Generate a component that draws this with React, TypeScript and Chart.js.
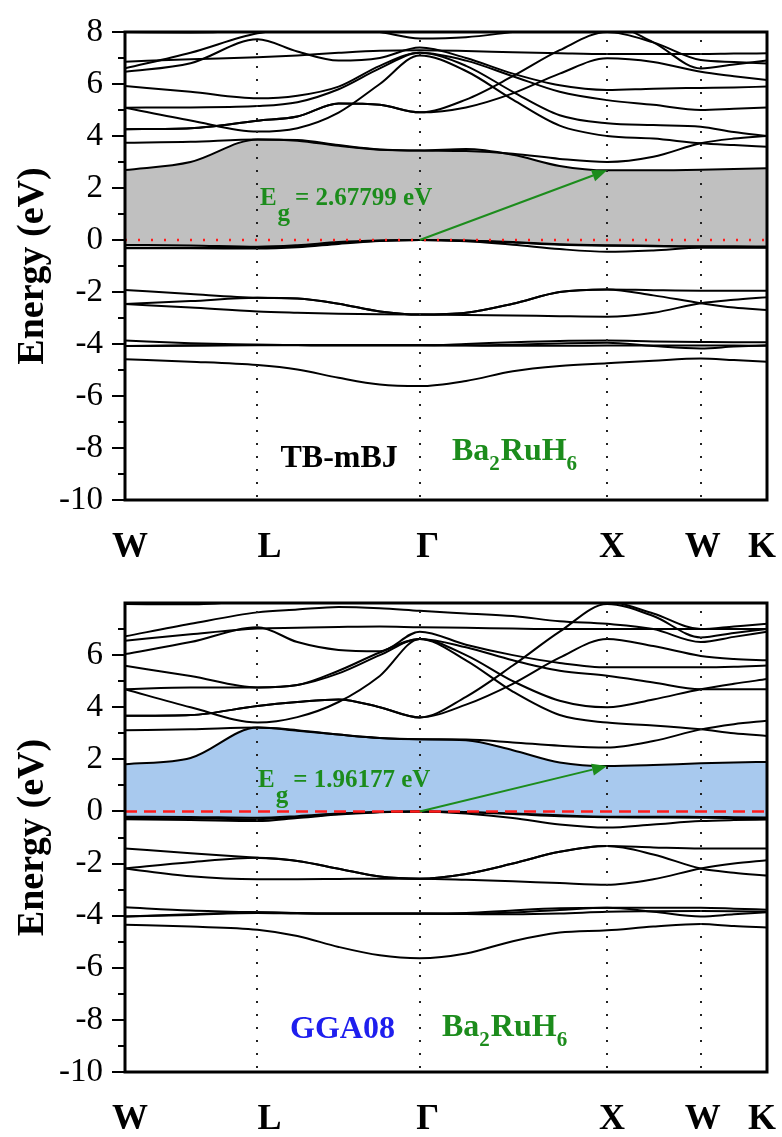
import React, { useEffect, useRef } from 'react';
import { Chart, registerables } from 'chart.js';

Chart.register(...registerables);

// ---------- k-path (reciprocal-space distance) ----------
const K_PATH = [0, 0.35, 0.7071, 0.92, 1.14, 1.36, 1.5731, 1.82, 2.07, 2.32, 2.5731, 2.82, 3.0731, 3.25, 3.4267];
const SYM_POINTS = [0, 0.7071, 1.5731, 2.5731, 3.0731, 3.4267];
const SYM_LABELS = ['W', 'L', 'Γ', 'X', 'W', 'K'];

// ---------- TB-mBJ bands (eV) ----------
const TB_V1 = [-4.59, -4.68, -4.81, -4.98, -5.3, -5.56, -5.62, -5.42, -5.05, -4.85, -4.74, -4.64, -4.56, -4.62, -4.68];
const TB_V2 = [-3.87, -3.97, -4.03, -4.04, -4.05, -4.05, -4.05, -4.0, -3.93, -3.88, -3.87, -3.9, -3.92, -3.93, -3.93];
const TB_V3 = [-4.08, -4.05, -4.03, -4.04, -4.05, -4.05, -4.05, -4.05, -4.03, -3.98, -3.95, -4.08, -4.17, -4.1, -4.05];
const TB_V4 = [-4.08, -4.07, -4.05, -4.05, -4.05, -4.05, -4.05, -4.06, -4.07, -4.07, -4.06, -4.06, -4.06, -4.06, -4.07];
const TB_V5 = [-1.92, -2.08, -2.22, -2.25, -2.45, -2.75, -2.87, -2.8, -2.45, -2.0, -1.9, -1.93, -1.95, -1.95, -1.95];
const TB_V6 = [-2.46, -2.35, -2.22, -2.25, -2.45, -2.75, -2.87, -2.8, -2.45, -2.0, -1.9, -2.13, -2.43, -2.6, -2.69];
const TB_V7 = [-2.46, -2.6, -2.75, -2.8, -2.84, -2.86, -2.87, -2.88, -2.9, -2.93, -2.95, -2.8, -2.43, -2.3, -2.2];
const TB_V8 = [-0.32, -0.32, -0.33, -0.28, -0.15, -0.04, 0, -0.05, -0.18, -0.35, -0.45, -0.4, -0.3, -0.3, -0.3];
const TB_V9 = [-0.3, -0.3, -0.3, -0.25, -0.12, -0.03, 0, -0.03, -0.1, -0.18, -0.22, -0.24, -0.26, -0.27, -0.28];
const TB_V10 = [-0.19, -0.21, -0.26, -0.2, -0.08, -0.02, 0, -0.02, -0.08, -0.16, -0.2, -0.22, -0.24, -0.24, -0.25];
const TB_C1 = [2.69, 3.0, 3.87, 3.82, 3.62, 3.47, 3.44, 3.5, 3.28, 2.85, 2.68, 2.68, 2.7, 2.73, 2.76];
const TB_C2 = [3.74, 3.78, 3.87, 3.85, 3.65, 3.48, 3.44, 3.42, 3.32, 3.12, 3.0, 3.2, 3.72, 3.9, 4.0];
const TB_C3 = [4.26, 4.3, 4.59, 4.75, 5.25, 5.2, 4.91, 5.1, 5.64, 6.4, 6.99, 6.85, 6.47, 6.3, 6.15];
const TB_C4 = [5.09, 4.6, 4.17, 4.3, 4.9, 6.0, 7.1, 6.5, 5.4, 4.4, 4.0, 3.9, 3.72, 3.65, 3.59];
const TB_C5 = [5.09, 5.1, 5.15, 5.3, 5.8, 6.6, 7.2, 6.7, 5.7, 4.8, 4.49, 4.42, 4.36, 4.15, 4.0];
const TB_C6 = [5.92, 5.7, 5.45, 5.55, 5.9, 6.7, 7.2, 6.9, 6.3, 5.7, 5.38, 5.2, 5.0, 5.05, 5.1];
const TB_C7 = [6.86, 6.95, 7.03, 7.1, 7.2, 7.28, 7.3, 7.27, 7.22, 7.18, 7.15, 7.15, 7.15, 7.17, 7.18];
const TB_C8 = [6.47, 6.8, 7.72, 7.25, 6.9, 7.0, 7.4, 7.0, 6.4, 5.95, 5.77, 5.82, 5.85, 5.87, 5.9];
const TB_C9 = [4.26, 4.3, 4.59, 4.75, 5.25, 5.2, 4.91, 5.4, 6.3, 7.3, 8.0, 7.6, 6.92, 6.85, 6.79];
const TB_C10 = [6.6, 7.2, 7.95, 8.1, 8.2, 8.0, 7.75, 7.8, 8.0, 8.2, 8.3, 7.6, 6.6, 6.75, 6.9];
const TB_C11 = [8.0, 7.98, 8.1, 8.3, 8.4, 8.3, 8.2, 8.3, 8.4, 8.4, 8.5, 8.5, 8.5, 8.5, 8.5];

// ---------- GGA08 bands (eV) ----------
const GG_V1 = [-4.35, -4.42, -4.54, -4.78, -5.2, -5.52, -5.63, -5.45, -4.98, -4.65, -4.56, -4.42, -4.32, -4.4, -4.45];
const GG_V2 = [-3.68, -3.8, -3.87, -3.9, -3.92, -3.92, -3.92, -3.9, -3.8, -3.72, -3.7, -3.7, -3.7, -3.73, -3.77];
const GG_V3 = [-4.03, -3.95, -3.87, -3.9, -3.92, -3.92, -3.92, -3.92, -3.88, -3.78, -3.7, -3.85, -4.03, -3.95, -3.87];
const GG_V4 = [-4.03, -3.97, -3.9, -3.92, -3.93, -3.93, -3.93, -3.94, -3.95, -3.92, -3.85, -3.83, -3.82, -3.83, -3.85];
const GG_V5 = [-1.42, -1.6, -1.78, -1.9, -2.2, -2.5, -2.58, -2.4, -2.0, -1.55, -1.33, -1.38, -1.42, -1.42, -1.42];
const GG_V6 = [-2.19, -1.95, -1.78, -1.9, -2.2, -2.5, -2.58, -2.4, -2.0, -1.55, -1.33, -1.65, -2.19, -2.35, -2.46];
const GG_V7 = [-2.19, -2.49, -2.6, -2.6, -2.59, -2.58, -2.58, -2.62, -2.68, -2.75, -2.81, -2.6, -2.19, -2.0, -1.87];
const GG_V8 = [-0.3, -0.33, -0.37, -0.25, -0.12, -0.03, 0, -0.08, -0.25, -0.5, -0.62, -0.5, -0.37, -0.33, -0.31];
const GG_V9 = [-0.25, -0.27, -0.3, -0.22, -0.1, -0.02, 0, -0.03, -0.1, -0.18, -0.22, -0.23, -0.24, -0.25, -0.26];
const GG_V10 = [-0.2, -0.21, -0.24, -0.18, -0.08, -0.02, 0, -0.02, -0.08, -0.15, -0.2, -0.2, -0.21, -0.22, -0.23];
const GG_C1 = [1.81, 2.05, 3.22, 3.1, 2.95, 2.82, 2.77, 2.73, 2.35, 1.88, 1.74, 1.78, 1.85, 1.88, 1.9];
const GG_C2 = [3.12, 3.15, 3.22, 3.12, 2.95, 2.82, 2.77, 2.76, 2.65, 2.52, 2.45, 2.7, 3.15, 3.35, 3.48];
const GG_C3 = [3.67, 3.7, 4.05, 4.2, 4.3, 4.0, 3.61, 4.1, 4.9, 5.9, 6.62, 6.35, 5.97, 5.85, 5.8];
const GG_C4 = [4.69, 4.0, 3.41, 3.62, 4.2, 5.2, 6.62, 5.8, 4.6, 3.7, 3.41, 3.3, 3.15, 3.0, 2.9];
const GG_C5 = [4.69, 4.76, 4.76, 4.85, 5.3, 6.0, 6.62, 6.0, 5.0, 4.25, 4.0, 4.3, 4.69, 4.9, 5.08];
const GG_C6 = [5.59, 5.2, 4.76, 4.85, 5.4, 6.1, 6.62, 6.3, 5.8, 5.4, 5.21, 4.95, 4.69, 4.69, 4.69];
const GG_C7 = [6.55, 6.8, 7.02, 7.05, 7.08, 7.1, 7.07, 7.05, 7.02, 7.0, 7.0, 7.0, 7.0, 7.0, 7.0];
const GG_C8 = [6.04, 6.5, 7.07, 6.5, 6.2, 6.15, 6.9, 6.4, 6.0, 5.7, 5.53, 5.53, 5.53, 5.55, 5.6];
const GG_C9 = [3.67, 3.7, 4.05, 4.2, 4.3, 4.0, 3.61, 4.4, 5.6, 6.9, 7.96, 7.5, 6.68, 6.85, 7.0];
const GG_C10 = [6.72, 7.2, 7.64, 7.75, 7.85, 7.8, 7.7, 7.6, 7.5, 7.3, 7.2, 7.0, 6.5, 6.7, 6.9];
const GG_C11 = [7.96, 7.95, 8.1, 8.2, 8.3, 8.2, 8.1, 8.2, 8.3, 8.2, 8.1, 7.6, 7.0, 7.1, 7.2];

const TB_BANDS = [TB_V1, TB_V2, TB_V3, TB_V4, TB_V5, TB_V6, TB_V7, TB_V8, TB_V9, TB_V10,
  TB_C1, TB_C2, TB_C3, TB_C4, TB_C5, TB_C6, TB_C7, TB_C8, TB_C9, TB_C10, TB_C11];
const GG_BANDS = [GG_V1, GG_V2, GG_V3, GG_V4, GG_V5, GG_V6, GG_V7, GG_V8, GG_V9, GG_V10,
  GG_C1, GG_C2, GG_C3, GG_C4, GG_C5, GG_C6, GG_C7, GG_C8, GG_C9, GG_C10, GG_C11];

// gap arrows: [k, E] start and end
const TB_ARROW = [[1.5731, 0], [2.5731, 2.68]];
const GG_ARROW = [[1.5731, 0], [2.5731, 1.74]];

const Y_TICKS_TOP = [-10, -8, -6, -4, -2, 0, 2, 4, 6, 8];
const Y_TICKS_BOTTOM = [-10, -8, -6, -4, -2, 0, 2, 4, 6];

const FONT = '"Liberation Serif", "Times New Roman", serif';
const GREEN = '#1c8c1c';

type Spec = {
  bands: number[][];
  vbm: number[];
  cbm: number[];
  fill: string;
  fermiDash: number[];
  fermiWidth: number;
  arrow: number[][];
  yTicks: number[];
  minorMax: number;
  gapLabel: string;
  gapPos: number[];
  method: string;
  methodColor: string;
  methodPos: number[];
  formulaPos: number[];
  padTop: number;
  xAxisH: number;
};

const TOP_SPEC: Spec = {
  bands: TB_BANDS, vbm: TB_V10, cbm: TB_C1, fill: '#c0c0c0',
  fermiDash: [2, 11], fermiWidth: 2.5, arrow: TB_ARROW,
  yTicks: Y_TICKS_TOP, minorMax: 8,
  gapLabel: '= 2.67799 eV', gapPos: [0.72, 1.35],
  method: 'TB-mBJ', methodColor: '#000', methodPos: [0.83, -8.73], formulaPos: [1.745, -8.46],
  padTop: 32, xAxisH: 75,
};
const BOTTOM_SPEC: Spec = {
  bands: GG_BANDS, vbm: GG_V10, cbm: GG_C1, fill: '#a8c9ee',
  fermiDash: [12, 7], fermiWidth: 2.5, arrow: GG_ARROW,
  yTicks: Y_TICKS_BOTTOM, minorMax: 7,
  gapLabel: '= 1.96177 eV', gapPos: [0.71, 0.92],
  method: 'GGA08', methodColor: '#1e1eee', methodPos: [0.881, -8.69], formulaPos: [1.692, -8.62],
  padTop: 28, xAxisH: 65,
};

const LABEL_OFFSETS = [5, 12, 8, 5, 2, -5];

function toPts(vals: number[]) {
  return K_PATH.map((k, i) => ({ x: k, y: vals[i] }));
}

function drawFormula(ctx: CanvasRenderingContext2D, x: number, y: number, color: string) {
  const big = `bold 32px ${FONT}`;
  const small = `bold 21px ${FONT}`;
  ctx.fillStyle = color;
  ctx.textAlign = 'left';
  ctx.textBaseline = 'alphabetic';
  let cx = x;
  const parts: [string, boolean][] = [['Ba', false], ['2', true], ['RuH', false], ['6', true]];
  for (const [t, sub] of parts) {
    ctx.font = sub ? small : big;
    ctx.fillText(t, cx, sub ? y + 10 : y);
    cx += ctx.measureText(t).width + (sub ? 1 : 0);
  }
}

function decorPlugin(spec: Spec) {
  return {
    id: 'decor',
    afterDatasetsDraw(chart: any) {
      const { ctx, chartArea: a, scales } = chart;
      const xs = scales.x, ys = scales.y;
      ctx.save();
      ctx.strokeStyle = '#222';
      ctx.lineWidth = 2;
      ctx.setLineDash([2, 11]);
      for (const k of SYM_POINTS.slice(1, -1)) {
        const px = Math.round(xs.getPixelForValue(k));
        ctx.beginPath();
        ctx.moveTo(px, a.top + 8);
        ctx.lineTo(px, a.bottom);
        ctx.stroke();
      }
      ctx.setLineDash([]);
      const [p0, p1] = spec.arrow;
      const x0 = xs.getPixelForValue(p0[0]), y0 = ys.getPixelForValue(p0[1]);
      const x1 = xs.getPixelForValue(p1[0]), y1 = ys.getPixelForValue(p1[1]);
      const ang = Math.atan2(y1 - y0, x1 - x0);
      const hl = 15, hw = 6;
      ctx.strokeStyle = GREEN;
      ctx.fillStyle = GREEN;
      ctx.lineWidth = 2;
      ctx.beginPath();
      ctx.moveTo(x0, y0);
      ctx.lineTo(x1 - hl * Math.cos(ang), y1 - hl * Math.sin(ang));
      ctx.stroke();
      ctx.beginPath();
      ctx.moveTo(x1, y1);
      ctx.lineTo(x1 - hl * Math.cos(ang) + hw * Math.sin(ang), y1 - hl * Math.sin(ang) - hw * Math.cos(ang));
      ctx.lineTo(x1 - hl * Math.cos(ang) - hw * Math.sin(ang), y1 - hl * Math.sin(ang) + hw * Math.cos(ang));
      ctx.closePath();
      ctx.fill();
      ctx.restore();
    },
    afterDraw(chart: any) {
      const { ctx, chartArea: a, scales } = chart;
      const xs = scales.x, ys = scales.y;
      ctx.save();
      ctx.strokeStyle = '#000';
      ctx.lineWidth = 3;
      ctx.strokeRect(a.left, a.top, a.right - a.left, a.bottom - a.top);
      ctx.lineWidth = 2;
      for (let v = -10; v <= spec.minorMax; v++) {
        const py = Math.round(ys.getPixelForValue(v));
        const len = v % 2 === 0 ? 13 : 7;
        ctx.beginPath();
        ctx.moveTo(a.left - len, py);
        ctx.lineTo(a.left, py);
        ctx.stroke();
      }
      ctx.save();
      ctx.translate(a.left - 82, ys.getPixelForValue(-1));
      ctx.rotate(-Math.PI / 2);
      ctx.font = `bold 38px ${FONT}`;
      ctx.fillStyle = '#000';
      ctx.textAlign = 'center';
      ctx.textBaseline = 'alphabetic';
      ctx.fillText('Energy (eV)', 0, 0);
      ctx.restore();
      ctx.font = `bold 36px ${FONT}`;
      ctx.fillStyle = '#000';
      ctx.textAlign = 'center';
      ctx.textBaseline = 'alphabetic';
      SYM_POINTS.forEach((k, i) => {
        ctx.fillText(SYM_LABELS[i], xs.getPixelForValue(k) + LABEL_OFFSETS[i], a.bottom + 57);
      });
      const gx = xs.getPixelForValue(spec.gapPos[0]);
      const gy = ys.getPixelForValue(spec.gapPos[1]);
      ctx.fillStyle = GREEN;
      ctx.textAlign = 'left';
      ctx.font = `bold 25px ${FONT}`;
      ctx.fillText('E', gx, gy);
      const ew = ctx.measureText('E').width;
      ctx.fillText('g', gx + ew + 1, gy + 16);
      const gw = ctx.measureText('g').width;
      ctx.fillText(spec.gapLabel, gx + ew + gw + 6, gy);
      ctx.font = `bold 32px ${FONT}`;
      ctx.fillStyle = spec.methodColor;
      ctx.fillText(spec.method, xs.getPixelForValue(spec.methodPos[0]), ys.getPixelForValue(spec.methodPos[1]));
      drawFormula(ctx, xs.getPixelForValue(spec.formulaPos[0]), ys.getPixelForValue(spec.formulaPos[1]), GREEN);
      ctx.restore();
    },
  };
}

function buildConfig(spec: Spec): any {
  const xMax = SYM_POINTS[SYM_POINTS.length - 1];
  const datasets: any[] = [];
  datasets.push({
    data: [{ x: 0, y: 0 }, { x: xMax, y: 0 }],
    borderColor: '#ff1a1a', borderWidth: spec.fermiWidth, borderDash: spec.fermiDash,
    pointRadius: 0, fill: false,
  });
  spec.bands.forEach((b) => {
    datasets.push({
      data: toPts(b), borderColor: '#000', borderWidth: 2, pointRadius: 0,
      cubicInterpolationMode: 'monotone', fill: false,
    });
  });
  datasets.push({
    data: toPts(spec.vbm), borderColor: 'transparent', borderWidth: 0, pointRadius: 0,
    cubicInterpolationMode: 'monotone', fill: false,
  });
  datasets.push({
    data: toPts(spec.cbm), borderColor: 'transparent', borderWidth: 0, pointRadius: 0,
    cubicInterpolationMode: 'monotone', fill: '-1', backgroundColor: spec.fill,
  });
  return {
    type: 'line',
    data: { datasets },
    options: {
      responsive: false,
      maintainAspectRatio: false,
      animation: false,
      events: [],
      layout: { padding: { top: spec.padTop, right: 15, left: 0, bottom: 0 } },
      plugins: {
        legend: { display: false },
        tooltip: { enabled: false },
        filler: { drawTime: 'beforeDatasetsDraw' },
      },
      scales: {
        x: {
          type: 'linear', min: 0, max: xMax,
          grid: { display: false, drawTicks: false },
          border: { display: false },
          ticks: { display: false },
          afterFit: (s: any) => { s.height = spec.xAxisH; s.paddingLeft = 0; s.paddingRight = 0; },
        },
        y: {
          type: 'linear', min: -10, max: 8,
          grid: { display: false, drawTicks: false },
          border: { display: false },
          afterBuildTicks: (s: any) => { s.ticks = spec.yTicks.map((v) => ({ value: v })); },
          ticks: {
            color: '#000', padding: 22,
            font: { family: FONT, size: 33 },
            callback: (v: any) => String(v),
          },
          afterFit: (s: any) => { s.width = 125; s.paddingTop = 0; s.paddingBottom = 0; },
        },
      },
    },
    plugins: [decorPlugin(spec)],
  };
}

function Panel({ spec, top, height }: { spec: Spec; top: number; height: number }) {
  const ref = useRef<HTMLCanvasElement>(null);
  useEffect(() => {
    const chart = new Chart(ref.current as HTMLCanvasElement, buildConfig(spec));
    return () => chart.destroy();
  }, [spec]);
  return (
    <canvas
      ref={ref}
      width={782}
      height={height}
      style={{ position: 'absolute', left: 0, top, width: 782, height, display: 'block' }}
    />
  );
}

export default function App() {
  return (
    <div style={{ position: 'absolute', left: 0, top: 0, width: 782, height: 1137, background: '#fff', overflow: 'hidden' }}>
      <Panel spec={TOP_SPEC} top={0} height={575} />
      <Panel spec={BOTTOM_SPEC} top={575} height={562} />
    </div>
  );
}
